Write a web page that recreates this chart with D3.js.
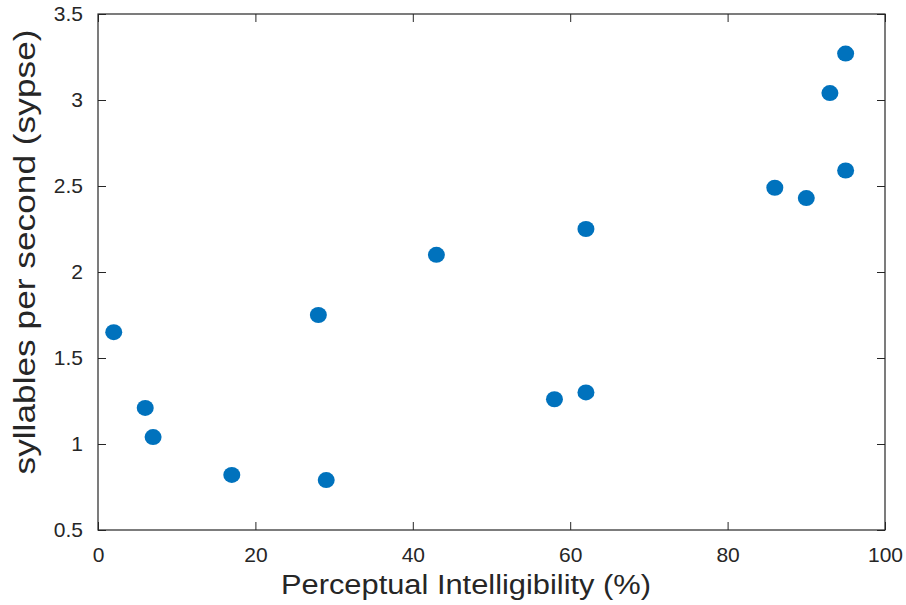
<!DOCTYPE html>
<html><head><meta charset="utf-8">
<script src="https://cdn.jsdelivr.net/npm/d3@7"></script>
<style>body{margin:0;background:#fff;}svg{display:block;}</style>
</head><body>
<script>
const intelligibility = [2, 6, 7, 17, 28, 29, 43, 58, 62, 62, 86, 90, 93, 95, 95];
const sylPerSec = [1.65, 1.21, 1.04, 0.82, 1.75, 0.79, 2.1, 1.26, 2.25, 1.3, 2.49, 2.43, 3.04, 3.27, 2.59];
const xTicks = [0, 20, 40, 60, 80, 100];
const yTicks = [0.5, 1, 1.5, 2, 2.5, 3, 3.5];
const xLabel = "Perceptual Intelligibility (%)";
const yLabel = "syllables per second (sypse)";

const W = 906, H = 605;
const L = 98, R = 885, T = 14, B = 530;
const svg = d3.select("body").append("svg").attr("width", W).attr("height", H);
const x = d3.scaleLinear().domain([0, 100]).range([L, R]);
const y = d3.scaleLinear().domain([0.5, 3.5]).range([B, T]);
const ax = "#262626";
const font = "'Liberation Sans', Arial, Helvetica, sans-serif";

function style(g, noText) {
  g.select(".domain").remove();
  g.selectAll(".tick line").attr("stroke", ax).attr("stroke-width", 1);
  g.selectAll(".tick text").attr("fill", ax).style("font-family", font).style("font-size", "21px");
  if (noText) g.selectAll(".tick text").remove();
}
svg.append("g").attr("transform", `translate(0,${B})`)
  .call(d3.axisBottom(x).tickValues(xTicks).tickFormat(d3.format("d")).tickSizeInner(-8).tickSizeOuter(0).tickPadding(17))
  .call(g => style(g));
svg.append("g").attr("transform", `translate(0,${T})`)
  .call(d3.axisTop(x).tickValues(xTicks).tickSizeInner(-8).tickSizeOuter(0))
  .call(g => style(g, true));
svg.append("g").attr("transform", `translate(${L},0)`)
  .call(d3.axisLeft(y).tickValues(yTicks).tickFormat(d => String(d)).tickSizeInner(-8).tickSizeOuter(0).tickPadding(15))
  .call(g => style(g));
svg.append("g").attr("transform", `translate(${R},0)`)
  .call(d3.axisRight(y).tickValues(yTicks).tickSizeInner(-8).tickSizeOuter(0))
  .call(g => style(g, true));

svg.append("rect").attr("x", L).attr("y", T).attr("width", R - L).attr("height", B - T)
  .attr("fill", "none").attr("stroke", ax).attr("stroke-width", 1.2);

svg.append("g").selectAll("ellipse").data(intelligibility.map((v, i) => [v, sylPerSec[i]]))
  .join("ellipse")
  .attr("cx", d => x(d[0])).attr("cy", d => y(d[1]))
  .attr("rx", 8.5).attr("ry", 8)
  .attr("fill", "#0072BD");

svg.append("text").attr("x", 466).attr("y", 594)
  .attr("text-anchor", "middle").attr("fill", ax)
  .attr("textLength", 370).attr("lengthAdjust", "spacingAndGlyphs")
  .style("font-family", font).style("font-size", "27px").text(xLabel);
svg.append("text").attr("transform", `translate(35,252) rotate(-90)`)
  .attr("text-anchor", "middle").attr("fill", ax)
  .attr("textLength", 445).attr("lengthAdjust", "spacingAndGlyphs")
  .style("font-family", font).style("font-size", "29px").text(yLabel);
</script>
</body></html>
